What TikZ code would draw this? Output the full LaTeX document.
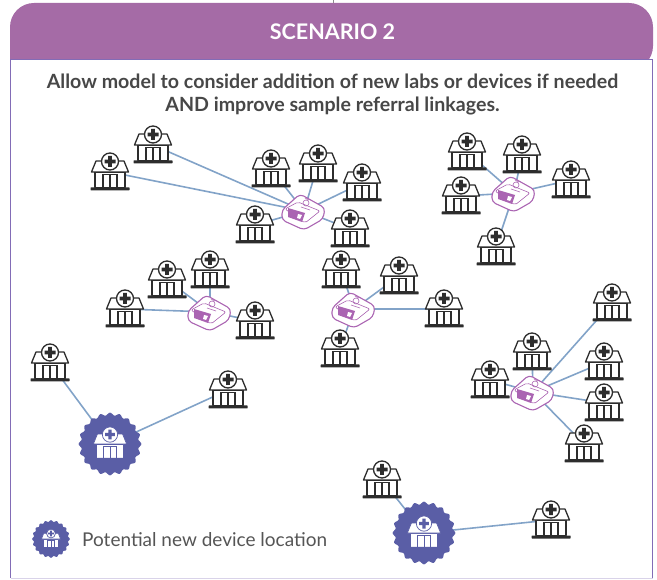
\documentclass[tikz,border=0pt]{standalone}
\usepackage{fontspec}
\setmainfont{Lato}
\definecolor{scenariopurple}{RGB}{165,107,166}
\definecolor{framepurple}{RGB}{130,108,182}
\definecolor{linkblue}{RGB}{130,163,200}
\definecolor{devicepurple}{RGB}{170,100,178}
\definecolor{badgeblue}{RGB}{90,94,166}
\definecolor{labink}{RGB}{45,45,45}
\definecolor{legendgrey}{RGB}{85,85,85}

\tikzset{
site/.style={inner sep=0pt, minimum size=0pt},
link/.style={color=linkblue, line width=1.6pt},
pics/lab/.style n args={4}{code={
    \begin{scope}[xscale=#4, yscale=-#4]
    \draw [draw=#1, fill=#2, line width=#3, line join=round]
        (-15,0) rectangle (15,15.5);
    \draw [draw=#1, fill=#2, line width=#3, line join=round]
        (-18.5,0) -- (-14,-11) -- (14,-11) -- (18.5,0) -- cycle;
    \draw [draw=#1, fill=#2, line width=#3]
        (-7,2.5) rectangle (7,15.5)
        (0,2.5) -- (0,15.5);
    \fill [#1, rounded corners=0.5pt] (-19.5,15.5) rectangle (19.5,18.5);
    \draw [draw=#1, fill=#2, line width=#3] (0,-10.5) circle [radius=8.5];
    \fill [#1] (-1.8,-16) rectangle (1.8,-5) (-5.5,-12.3) rectangle (5.5,-8.7);
    \end{scope}
}},
pics/device/.style={code={
    \begin{scope}[yscale=-1]
    \draw [draw=devicepurple, fill=white, line width=1.1pt, rounded corners=4pt]
        (-22,-1) -- (-4,-17) -- (21,-3) -- (19,8) -- (0,19) -- (-22,9) -- cycle;
    \draw [draw=devicepurple, line width=0.6pt, rounded corners=2pt]
        (-19,-2) -- (-6,-9) -- (16,0) -- (1,12) -- cycle;
    \fill [devicepurple] (-16,-3) -- (1,2) -- (-2,11) -- (-16,6) -- cycle;
    \fill [white] (-6,3) -- (-2,4) -- (-4,8) -- (-7,7) -- cycle;
    \draw [draw=devicepurple, line width=0.6pt]
        (2,-8) circle [radius=3]
        (-3,-4) -- (6,-1)
        (1,-13) -- (5,-11);
    \end{scope}
}},
pics/badge/.style n args={2}{code={
    \fill [badgeblue] plot [domain=0:360, samples=161, smooth] (\x:{#1+0.045*#1*cos(20*\x)});
    \pic {lab={badgeblue}{white}{0.7pt}{#2}};
}}
}

\begin{document}
\begin{tikzpicture}[x=1pt,y=1pt,yscale=-1,xscale=1]

    \useasboundingbox (0,0) rectangle (657,580);

    % frame and header
    \draw [color=black!45, line width=1pt] (333,0) -- (333,3);
    \draw [color=framepurple!30, line width=1pt] (10.5,578) -- (652.5,578);
    \draw [color=framepurple, line width=1.2pt] (10.5,578) -- (10.5,59) (652.5,578) -- (652.5,59);
    \fill [scenariopurple, rounded corners=24pt] (10,70) -- (10,3) -- (653,3) -- (653,70) [sharp corners] -- cycle;
    \fill [white] (5,60) rectangle (652,72);
    \draw [color=framepurple, line width=1.2pt] (10.5,59) -- (10.5,75) (652.5,59) -- (652.5,75);
    \draw [color=framepurple, line width=1pt] (10,59.5) -- (653,59.5);

    \node [site, text=white, font=\fontsize{21.5}{26}\selectfont\bfseries] (scenariotitle) at (332.5,32) {SCENARIO 2};
    \node [site, align=center, text=black!72, font=\fontsize{19.6}{23}\selectfont\bfseries] (goaltext) at (332.5,94)
        {Allow model to consider addition of new labs or devices if needed\\AND improve sample referral linkages.};

    % sites
    \foreach \n/\x/\y in {
        a1/153/145, a2/110/172, a3/271/169, a4/318/164, a5/362/183, a6/255/225, a7/350/229,
        b1/467/152, b2/522/155, b3/571/180, b4/461/196, b5/496/247,
        c1/167/280, c2/210/270, c3/125/309, c4/255/321,
        d1/341/270, d2/399/276, d3/444/309, d4/340/349,
        e1/612/303, e2/532/352, e3/604/362, e4/490/380, e5/604/403, e6/584/444,
        f1/50/363, f2/228/390, g1/382/480, g2/551/520}{
        \node [site] (\n) at (\x,\y) {};
    }
    \node [site] (deva) at (304,211) {};
    \node [site] (devb) at (514,193) {};
    \node [site] (devc) at (210,312) {};
    \node [site] (devd) at (354,309) {};
    \node [site] (deve) at (533,392) {};
    \node [site] (newf) at (110,444) {};
    \node [site] (newg) at (424,533) {};

    % links first so the icons sit on top
    \foreach \m/\lst in {
        deva/{a1,a2,a3,a4,a5,a6,a7},
        devb/{b1,b2,b3,b4,b5},
        devc/{c1,c2,c3,c4},
        devd/{d1,d2,d3,d4},
        deve/{e1,e2,e3,e4,e5,e6},
        newf/{f1,f2},
        newg/{g1,g2}}{
        \foreach \s in \lst{
            \draw [link] (\m) -- (\s);
        }
    }

    \foreach \n in {a1,a2,a3,a4,a5,a6,a7,b1,b2,b3,b4,b5,c1,c2,c3,c4,d1,d2,d3,d4,e1,e2,e3,e4,e5,e6,f1,f2,g1,g2}{
        \pic at (\n) {lab={labink}{white}{1.3pt}{1}};
    }
    \foreach \m in {deva,devb,devc,devd,deve}{
        \pic at (\m) {device};
    }
    \pic at (newf) {badge={30}{0.9}};
    \pic at (newg) {badge={30}{0.9}};

    % legend
    \node [site] (legendmark) at (51,539) {};
    \pic at (legendmark) {badge={18}{0.52}};
    \node [site, right, text=legendgrey, font=\fontsize{19}{22}\selectfont] (legendtext) at (82,540) {Potential new device location};

\end{tikzpicture}
\end{document}
